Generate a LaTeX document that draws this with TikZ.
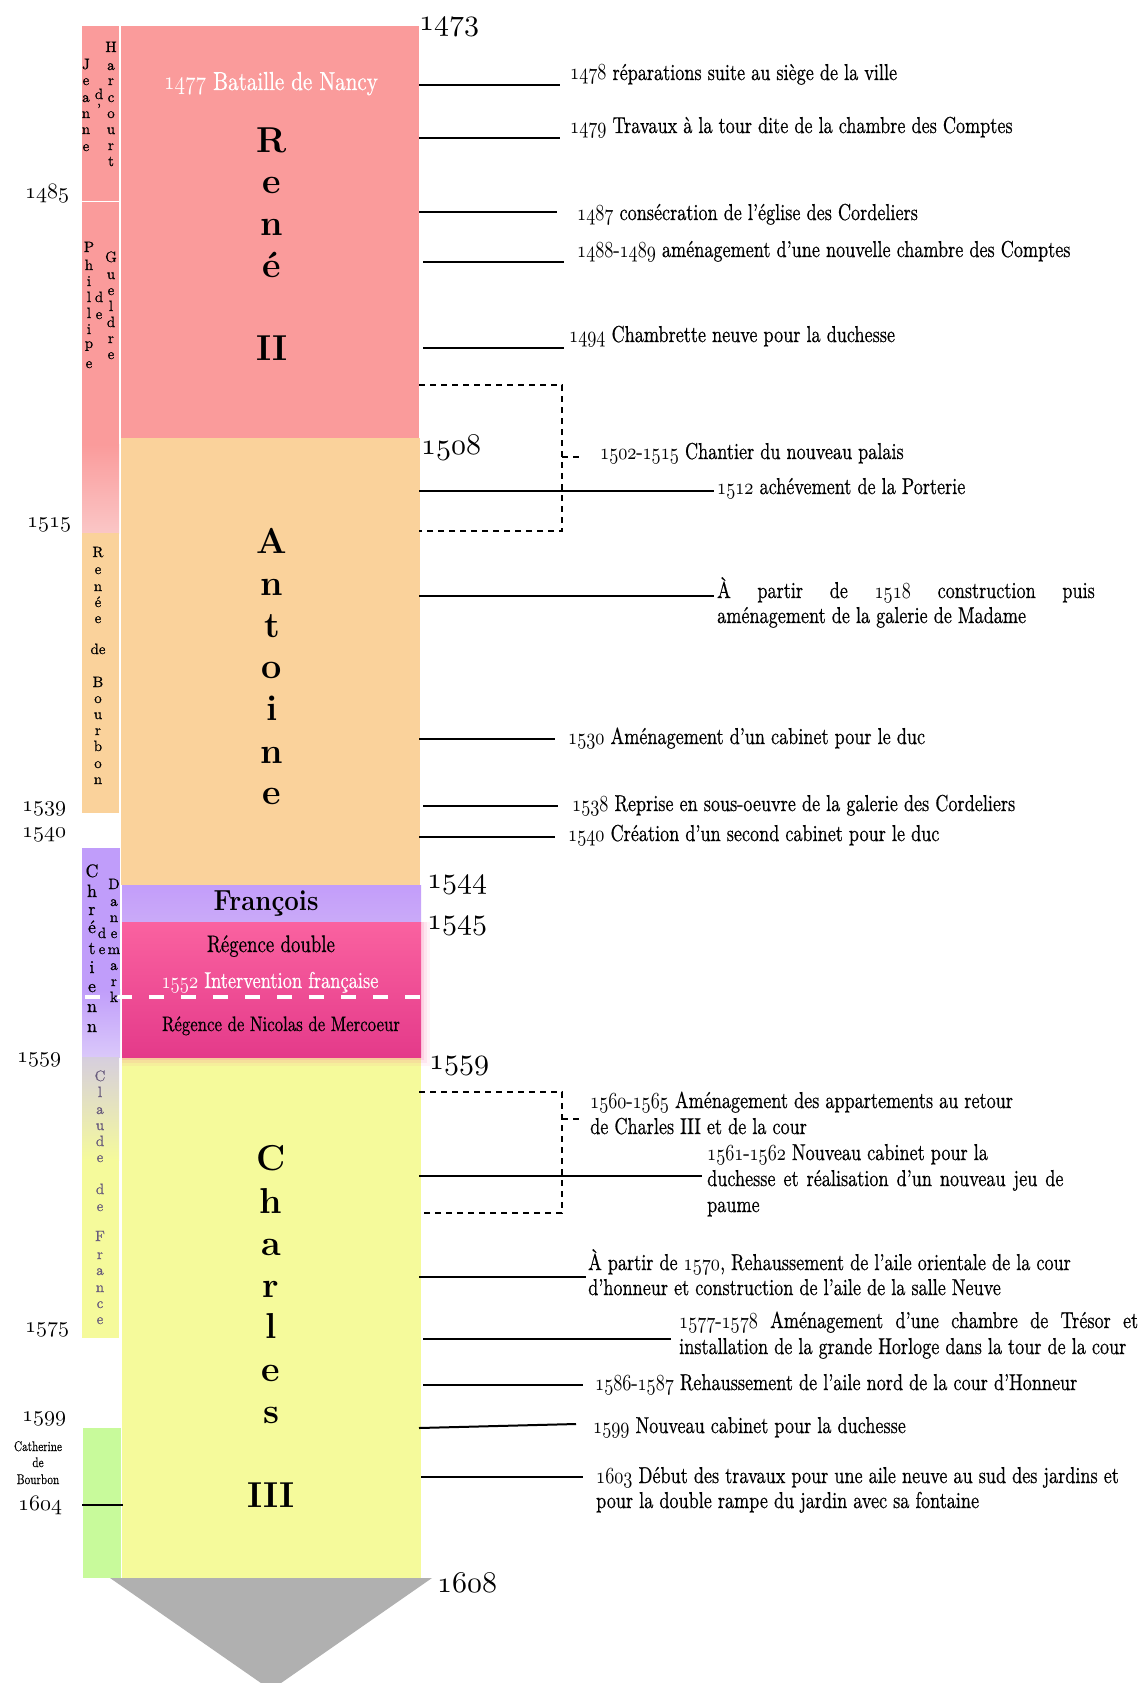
\documentclass[tikz,border=0pt]{standalone}
\usepackage{graphicx}
\usepackage{fontspec}
\newfontfamily\evf{lmroman10-regular.otf}[FakeBold=0.6]
\DeclareFontFamily{OML}{myosf}{\skewchar\font=127}
\DeclareFontShape{OML}{myosf}{m}{it}{<-> cmmi10}{}
\definecolor{rene}{RGB}{250,155,155}
\definecolor{renelt}{RGB}{250,198,198}
\definecolor{anto}{RGB}{250,210,155}
\definecolor{fran}{RGB}{195,157,250}
\definecolor{franlt}{RGB}{202,170,248}
\definecolor{regtop}{RGB}{250,98,160}
\definecolor{regbot}{RGB}{228,58,138}
\definecolor{charl}{RGB}{245,250,155}
\definecolor{chret}{RGB}{192,157,250}
\definecolor{chretlt}{RGB}{218,200,250}
\definecolor{claudetop}{RGB}{214,206,222}
\definecolor{cath}{RGB}{200,250,155}
\definecolor{tri}{RGB}{176,176,176}
\definecolor{claudetxt}{RGB}{105,92,125}

\newcommand\osn[1]{{\fontencoding{OML}\fontfamily{myosf}\fontseries{m}\fontshape{it}\selectfont #1}}
\newcommand\cnd[2][0.79]{\scalebox{#1}[1]{#2}}
\newcommand\tk[4]{\coordinate (#1a) at (#2,#4); \coordinate (#1b) at (#3,#4); \draw[tick] (#1a) -- (#1b);}

\tikzset{
 evt/.style={anchor=base west, inner sep=0pt, font=\fontsize{23}{27}\evf},
 ryear/.style={anchor=base west, inner sep=0pt, font=\fontsize{30}{30}\selectfont},
 lyear/.style={anchor=base west, inner sep=0pt, font=\fontsize{22}{22}\selectfont},
 bigl/.style={anchor=base, inner sep=0pt, font=\fontsize{36}{36}\selectfont\bfseries},
 sml/.style={anchor=base, inner sep=0pt, font=\fontsize{15}{15}\evf},
 smlb/.style={anchor=base, inner sep=0pt, font=\fontsize{18}{18}\evf},
 tick/.style={line width=2pt},
 brk/.style={line width=1.6pt, dash pattern=on 6pt off 5pt},
}

\begin{document}
\begin{tikzpicture}[x=1pt,y=-1pt]
\useasboundingbox (0,0) rectangle (1143,1683);
\clip (0,0) rectangle (1143,1683);

% ---------- main column ----------
\fill[rene] (121,26) rectangle (419,438);
\fill[anto] (121,438) rectangle (420,885);
\fill[charl] (122,1057) rectangle (421,1578);
\foreach \d/\o in {9/0.07,6/0.1,3/0.15} \fill[regtop,opacity=\o] (122,922) rectangle (421+\d,1057+\d);
\shade[top color=fran, bottom color=franlt] (122,885) rectangle (421,922);
\shade[top color=regtop, bottom color=regbot] (122,922) rectangle (421,1057);

% ---------- left strip ----------
\fill[rene] (82,26) rectangle (119,445);
\shade[top color=rene, bottom color=renelt] (82,444) rectangle (119,533);
\draw[white, line width=1pt] (82,201) -- (119,201);
\fill[anto] (82,533) rectangle (119,813);
\fill[chret] (82,848) rectangle (120,990);
\shade[top color=chret, bottom color=chretlt] (82,989) rectangle (120,1057);
\shade[top color=claudetop, bottom color=charl] (82,1057) rectangle (119,1160);
\fill[charl] (82,1159) rectangle (119,1338);
\fill[cath] (83,1428) rectangle (121,1578);
\coordinate (cat-l) at (82,1505); \coordinate (cat-r) at (123,1505);
\draw[tick] (cat-l) -- (cat-r);

% triangle
\fill[tri] (110,1578) -- (432,1578) -- (271,1690) -- cycle;

% white dashed line
\coordinate (dl) at (85,997); \coordinate (dr) at (421,997);
\draw[white, line width=4pt, dash pattern=on 15pt off 17pt] (dl) -- (dr);

% ---------- big names ----------
\foreach \l/\yy [count=\i] in {R/152,e/193,n/235,é/277,II/360} \node[bigl] (rene-\i) at (272,\yy) {\l};
\foreach \l/\yy [count=\i] in {A/553,n/595,t/637,o/678,i/720,n/763,e/804} \node[bigl] (anto-\i) at (272,\yy) {\l};
\foreach \l/\yy [count=\i] in {C/1170,h/1213,a/1255,r/1297,l/1338,e/1381,s/1423,III/1507} \node[bigl] (charl-\i) at (271,\yy) {\l};

\node[anchor=base, inner sep=0pt, font=\fontsize{29}{29}\selectfont\bfseries] (francois) at (266,910) {\cnd[0.89]{François}};
\node[anchor=base, inner sep=0pt, font=\fontsize{26}{26}\evf, white] (nancy) at (271,90) {\cnd[0.81]{\osn{1477} Bataille de Nancy}};
\node[anchor=base, inner sep=0pt, font=\fontsize{24}{24}\evf] (regd) at (271,952) {\cnd[0.785]{Régence double}};
\node[anchor=base, inner sep=0pt, font=\fontsize{23}{23}\evf, white] (interv) at (270,988) {\cnd[0.80]{\osn{1552} Intervention française}};
\node[anchor=base, inner sep=0pt, font=\fontsize{21}{21}\evf] (regn) at (281,1031) {\cnd[0.80]{Régence de Nicolas de Mercoeur}};

% ---------- left strip letters ----------
\foreach \l/\yy [count=\i] in {J/69,e/85,a/102,n/118,n/134,e/151} \node[sml] (jea-\i) at (86,\yy) {\l};
\foreach \l/\yy [count=\i] in {d/99,’/114} \node[sml] (jd-\i) at (99,\yy) {\l};
\foreach \l/\yy [count=\i] in {H/52,a/70,r/85,c/102,o/118,u/134,r/150,t/166} \node[sml] (har-\i) at (111,\yy) {\l};
\foreach \l/\yy [count=\i] in {P/252,h/270,i/286,l/302,l/318,i/334,p/348,e/368} \node[sml] (phi-\i) at (89,\yy) {\l};
\foreach \l/\yy [count=\i] in {d/302,e/319} \node[sml] (pd-\i) at (99,\yy) {\l};
\foreach \l/\yy [count=\i] in {G/262,u/279,e/295,l/311,d/327,r/343,e/359} \node[sml] (gue-\i) at (111,\yy) {\l};
\foreach \l/\yy [count=\i] in {R/557,e/574,n/591,é/607,e/623,de/654,B/687,o/703,u/719,r/735,b/751,o/768,n/784} \node[sml] (ren-\i) at (98,\yy) {\l};
\foreach \l/\yy [count=\i] in {C/877,h/897,r/915,é/933,t/954,i/973,e/992,n/1012,n/1032} \node[smlb] (chr-\i) at (92,\yy) {\l};
\foreach \l/\yy [count=\i] in {d/938,e/954} \node[sml] (cd-\i) at (102,\yy) {\l};
\foreach \l/\yy [count=\i] in {D/889,a/906,n/922,e/938,m/954,a/970,r/986,k/1002} \node[sml] (dan-\i) at (114,\yy) {\l};
\foreach \l/\yy [count=\i] in {C/1081,l/1097,a/1114,u/1130,d/1146,e/1162,d/1194,e/1211,F/1241,r/1259,a/1275,n/1292,c/1308,e/1324} \node[sml, text=claudetxt] (cla-\i) at (100,\yy) {\l};
\node[sml, font=\fontsize{14}{14}\evf] (cat1) at (38,1451) {\cnd[0.8]{Catherine}};
\node[sml, font=\fontsize{14}{14}\evf] (cat2) at (38,1467) {\cnd[0.8]{de}};
\node[sml, font=\fontsize{14}{14}\evf] (cat3) at (38,1484) {\cnd[0.8]{Bourbon}};

% ---------- years ----------
\node[lyear] (y1485) at (25,198) {\osn{1485}};
\node[lyear] (y1515) at (27,527) {\osn{1515}};
\node[lyear] (y1539) at (22,811) {\osn{1539}};
\node[lyear] (y1540) at (22,837) {\osn{1540}};
\node[lyear] (y1559l) at (17,1062) {\osn{1559}};
\node[lyear] (y1575) at (25,1332) {\osn{1575}};
\node[lyear] (y1599) at (22,1421) {\osn{1599}};
\node[lyear] (y1604) at (18,1510) {\osn{1604}};

\node[ryear] (y1473) at (419,31) {\osn{1473}};
\node[ryear] (y1508) at (421,454) {\osn{1508}};
\node[ryear] (y1544) at (427,888) {\osn{1544}};
\node[ryear] (y1545) at (427,929) {\osn{1545}};
\node[ryear] (y1559r) at (429,1069) {\osn{1559}};
\node[ryear] (y1608) at (437,1592) {\osn{1608}};

% ---------- events ----------
\tk{c1}{419}{560}{85}
\node[evt] (e1) at (570,80) {\cnd{\osn{1478} réparations suite au siège de la ville}};
\tk{c2}{419}{560}{138}
\node[evt] (e2) at (570,133) {\cnd{\osn{1479} Travaux à la tour dite de la chambre des Comptes}};
\tk{c3}{419}{557}{212}
\node[evt] (e3) at (577,220) {\cnd{\osn{1487} consécration de l’église des Cordeliers}};
\tk{c4}{423}{564}{262}
\node[evt] (e4) at (577,257) {\cnd{\osn{1488}-\osn{1489} aménagement d’une nouvelle chambre des Comptes}};
\tk{c5}{423}{564}{348}
\node[evt] (e5) at (569,342) {\cnd{\osn{1494} Chambrette neuve pour la duchesse}};

% bracket 1502-1515
\coordinate (b1tl) at (419,385); \coordinate (b1tr) at (562,385);
\coordinate (b1br) at (562,531); \coordinate (b1bl) at (419,531);
\coordinate (b1m) at (562,457); \coordinate (b1s) at (581,457);
\draw[brk] (b1tl) -- (b1tr) -- (b1br) -- (b1bl);
\draw[brk] (b1m) -- (b1s);
\node[evt] (e6) at (600,459) {\cnd{\osn{1502}-\osn{1515} Chantier du nouveau palais}};

\tk{c7}{419}{714}{491}
\node[evt] (e7) at (717,494) {\cnd{\osn{1512} achévement de la Porterie}};
\tk{c8}{419}{714}{596}
\node[evt] (e8a) at (717,598) {\cnd{\makebox[478pt][s]{À partir de \osn{1518} construction puis}}};
\node[evt] (e8b) at (717,623) {\cnd{aménagement de la galerie de Madame}};
\tk{c9}{419}{555}{739}
\node[evt] (e9) at (568,744) {\cnd{\osn{1530} Aménagement d’un cabinet pour le duc}};
\tk{c10}{423}{558}{806}
\node[evt] (e10) at (572,811) {\cnd{\osn{1538} Reprise en sous-oeuvre de la galerie des Cordeliers}};
\tk{c11}{419}{555}{837}
\node[evt] (e11) at (568,841) {\cnd{\osn{1540} Création d’un second cabinet pour le duc}};

% bracket 1560-1565
\coordinate (b2tl) at (419,1092); \coordinate (b2tr) at (562,1092);
\coordinate (b2br) at (562,1213); \coordinate (b2bl) at (424,1213);
\coordinate (b2m) at (562,1119); \coordinate (b2s) at (583,1119);
\draw[brk] (b2tl) -- (b2tr) -- (b2br) -- (b2bl);
\draw[brk] (b2m) -- (b2s);
\node[evt] (e12a) at (590,1108) {\cnd{\osn{1560}-\osn{1565} Aménagement des appartements au retour}};
\node[evt] (e12b) at (590,1134) {\cnd{de Charles III et de la cour}};

\tk{c13}{419}{702}{1176}
\node[evt] (e13a) at (707,1160) {\cnd{\osn{1561}-\osn{1562} Nouveau cabinet pour la}};
\node[evt] (e13b) at (707,1186) {\cnd{\makebox[451pt][s]{duchesse et réalisation d’un nouveau jeu de}}};
\node[evt] (e13c) at (707,1212) {\cnd{paume}};

\tk{c14}{419}{586}{1277}
\node[evt] (e14a) at (588,1270) {\cnd{À partir de \osn{1570}, Rehaussement de l’aile orientale de la cour}};
\node[evt] (e14b) at (588,1295) {\cnd{d’honneur et construction de l’aile de la salle Neuve}};

\tk{c15}{423}{671}{1339}
\node[evt] (e15a) at (679,1328) {\cnd{\makebox[581pt][s]{\osn{1577}-\osn{1578} Aménagement d’une chambre de Trésor et}}};
\node[evt] (e15b) at (679,1354) {\cnd{installation de la grande Horloge dans la tour de la cour}};

\tk{c16}{423}{583}{1385}
\node[evt] (e16) at (595,1390) {\cnd{\osn{1586}-\osn{1587} Rehaussement de l’aile nord de la cour d’Honneur}};

\coordinate (c17a) at (419,1428); \coordinate (c17b) at (576,1424);
\draw[tick] (c17a) -- (c17b);
\node[evt] (e17) at (593,1433) {\cnd{\osn{1599} Nouveau cabinet pour la duchesse}};

\tk{c18}{421}{583}{1477}
\node[evt] (e18a) at (596,1483) {\cnd{\osn{1603} Début des travaux pour une aile neuve au sud des jardins et}};
\node[evt] (e18b) at (596,1508) {\cnd{pour la double rampe du jardin avec sa fontaine}};
\end{tikzpicture}
\end{document}
